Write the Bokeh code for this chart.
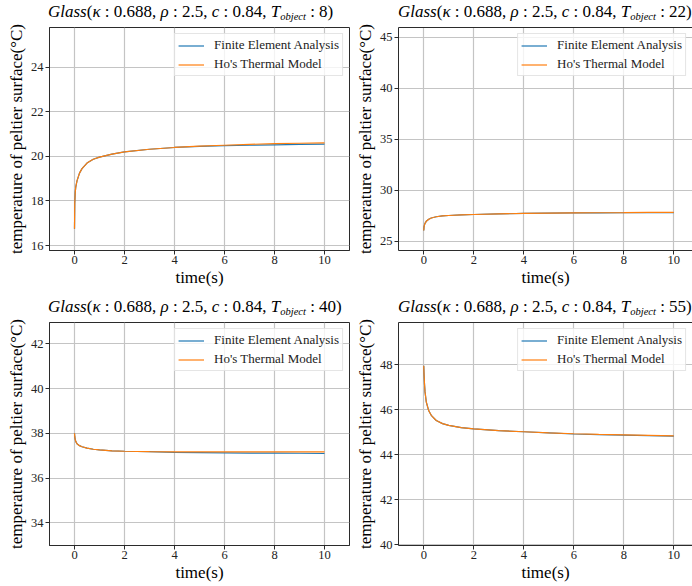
from bokeh.plotting import figure
from bokeh.models import Range1d, LinearAxis, FixedTicker, Div
from bokeh.layouts import column, row
from bokeh.embed import file_html
from bokeh.resources import INLINE

# ---------------- data ----------------
time_s = [0, 0.01, 0.03, 0.05, 0.1, 0.2, 0.3, 0.5, 0.75, 1, 1.5, 2, 3, 4, 5, 6, 7, 8, 9, 10]

fea_8 = [16.75, 17.9, 18.4, 18.62, 18.9, 19.25, 19.45, 19.7, 19.87, 19.97, 20.1, 20.2, 20.32, 20.4, 20.45, 20.48, 20.5, 20.52, 20.54, 20.55]
ho_8 = [16.75, 17.9, 18.4, 18.62, 18.9, 19.25, 19.45, 19.7, 19.87, 19.97, 20.1, 20.2, 20.32, 20.4, 20.46, 20.5, 20.54, 20.57, 20.59, 20.61]

fea_22 = [26.05, 26.4, 26.6, 26.75, 26.95, 27.15, 27.28, 27.4, 27.48, 27.52, 27.58, 27.62, 27.68, 27.72, 27.75, 27.77, 27.78, 27.79, 27.8, 27.81]
ho_22 = [26.05, 26.4, 26.6, 26.75, 26.95, 27.15, 27.28, 27.4, 27.48, 27.52, 27.58, 27.62, 27.68, 27.72, 27.75, 27.77, 27.79, 27.8, 27.82, 27.83]

fea_40 = [38.0, 37.85, 37.72, 37.64, 37.53, 37.45, 37.4, 37.34, 37.29, 37.26, 37.22, 37.2, 37.18, 37.15, 37.14, 37.13, 37.12, 37.115, 37.11, 37.1]
ho_40 = [38.0, 37.85, 37.72, 37.64, 37.53, 37.45, 37.4, 37.34, 37.29, 37.26, 37.22, 37.2, 37.18, 37.17, 37.17, 37.17, 37.17, 37.17, 37.17, 37.17]

fea_55 = [47.95, 47.6, 47.14, 46.8, 46.35, 45.95, 45.75, 45.52, 45.38, 45.3, 45.2, 45.15, 45.07, 45.02, 44.97, 44.92, 44.89, 44.87, 44.85, 44.83]
ho_55 = [47.95, 47.6, 47.14, 46.8, 46.35, 45.95, 45.75, 45.52, 45.38, 45.3, 45.2, 45.15, 45.07, 45.02, 44.97, 44.93, 44.9, 44.88, 44.86, 44.84]

t_objects = [8, 22, 40, 55]
x_ticks = [0, 2, 4, 6, 8, 10]
y_ticks_8 = [16, 18, 20, 22, 24]
y_ticks_22 = [25, 30, 35, 40, 45]
y_ticks_40 = [34, 36, 38, 40, 42]
y_ticks_55 = [40, 42, 44, 46, 48]

series_labels = ["Finite Element Analysis", "Ho's Thermal Model"]
colors = ["#1f77b4", "#ff7f0e"]
x_label = "time(s)"
y_label = "temperature of peltier surface(°C)"

SERIF = "Liberation Serif"
SPINE = "#2b2b2b"


def title_div(t_obj, width, pad_left, pad_top):
    html = (
        '<div style="font-family:\'Liberation Serif\';font-size:17px;line-height:20px;'
        'color:black;white-space:nowrap;padding-left:%dpx;padding-top:%dpx;">'
        '<i>Glass</i>(<i>κ</i> : 0.688, <i>ρ</i> : 2.5, <i>c</i> : 0.84, '
        '<i>T</i><span style="font-size:10.5px;font-style:italic;position:relative;top:3px;">object</span>'
        ' : %d)</div>' % (pad_left, pad_top, t_obj)
    )
    return Div(text=html, width=width, height=24, margin=0)


def make_panel(fea, ho, y_range, y_ticks, x_range, width, height,
               b_left, b_right, b_top, b_bottom, clipped_right):
    p = figure(width=width, height=height, output_backend="svg",
               toolbar_location=None, tools="",
               x_range=Range1d(*x_range), y_range=Range1d(*y_range),
               min_border_left=b_left, min_border_right=b_right,
               min_border_top=b_top, min_border_bottom=b_bottom)
    p.background_fill_color = "white"
    p.border_fill_color = "white"

    p.line(time_s, fea, line_color=colors[0], line_width=1.2, legend_label=series_labels[0])
    p.line(time_s, ho, line_color=colors[1], line_width=1.2, legend_label=series_labels[1])

    for ax in (p.xaxis[0], p.yaxis[0]):
        ax.axis_line_color = SPINE
        ax.axis_line_width = 1
        ax.major_tick_line_color = SPINE
        ax.major_tick_in = 0
        ax.major_tick_out = 4
        ax.minor_tick_line_color = None
        ax.major_label_text_font = SERIF
        ax.major_label_text_font_size = "12.5px"
        ax.major_label_text_color = "#222222"
        ax.major_label_standoff = 2
        ax.axis_label_text_font = SERIF
        ax.axis_label_text_font_size = "17px"
        ax.axis_label_text_font_style = "normal"
        ax.axis_label_text_color = "black"
        ax.axis_label_standoff = 2
    p.xaxis[0].ticker = FixedTicker(ticks=x_ticks)
    p.yaxis[0].ticker = FixedTicker(ticks=y_ticks)
    p.xaxis[0].axis_label = x_label
    p.yaxis[0].axis_label = y_label
    p.xaxis[0].major_label_standoff = 1
    p.xaxis[0].axis_label_standoff = 1

    p.grid.grid_line_color = "#c4c4c4"
    p.grid.grid_line_width = 1.2

    if clipped_right:
        p.outline_line_color = None
        top = LinearAxis(ticker=FixedTicker(ticks=[]), axis_line_color=SPINE,
                         major_tick_line_color=None, minor_tick_line_color=None)
        p.add_layout(top, "above")
    else:
        p.outline_line_color = SPINE
        p.outline_line_width = 1

    lg = p.legend[0]
    lg.location = "top_right"
    lg.margin = 6
    lg.padding = 3
    lg.spacing = 3
    lg.glyph_width = 26
    lg.glyph_height = 15
    lg.label_height = 15
    lg.label_standoff = 10
    lg.label_text_font = SERIF
    lg.label_text_font_size = "13px"
    lg.label_text_color = "#222222"
    lg.border_line_color = "#cccccc"
    lg.border_line_width = 1
    lg.background_fill_alpha = 0.8
    return p


p1 = make_panel(fea_8, ho_8, (15.78, 25.78), y_ticks_8, (-1.0, 11.0),
                352, 269, 49, 3, 3, 43, False)
p2 = make_panel(fea_22, ho_22, (24.09, 45.95), y_ticks_22, (-1.01, 10.75),
                340, 269, 46, 0, 3, 43, True)
p3 = make_panel(fea_40, ho_40, (32.99, 42.95), y_ticks_40, (-1.0, 11.0),
                352, 269, 49, 3, 5, 41, False)
p4 = make_panel(fea_55, ho_55, (39.97, 49.87), y_ticks_55, (-1.01, 10.75),
                340, 269, 46, 0, 5, 41, True)

d1 = title_div(t_objects[0], 352, 48, 2)
d2 = title_div(t_objects[1], 340, 46, 2)
d3 = title_div(t_objects[2], 352, 48, 4)
d4 = title_div(t_objects[3], 340, 46, 4)

layout = column(row(d1, d2), row(p1, p2), row(d3, d4), row(p3, p4))
open("out.html", "w").write(file_html(layout, INLINE))
